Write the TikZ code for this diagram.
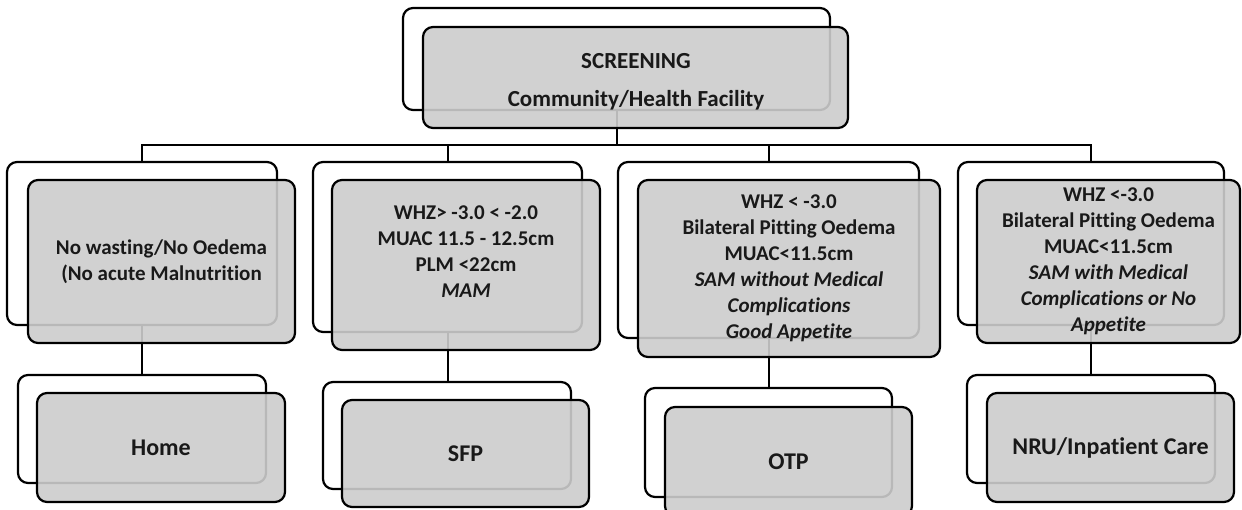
\documentclass[tikz,border=0pt]{standalone}
\usepackage{fontspec}
\setmainfont[Ligatures=NoCommon]{Carlito}
\begin{document}
\begin{tikzpicture}[x=1pt,y=-1pt,
  backbox/.style={draw=black, fill=white, line width=2.2pt, rounded corners=10pt,
    anchor=north west, inner sep=0pt, outer sep=0pt},
  frontbox/.style={draw=black, fill=black!20, fill opacity=0.9, text opacity=1,
    line width=2.2pt, rounded corners=10pt, anchor=north west, inner sep=0pt,
    outer sep=0pt, align=center, text=black!90,
    font=\fontsize{21}{26}\selectfont\bfseries},
  bigtext/.style={align=center, text=black!90, font=\fontsize{23}{26}\selectfont\bfseries},
  leaftext/.style={font=\fontsize{24}{28}\selectfont\bfseries},
  conn/.style={draw=black, line width=2pt}]
\useasboundingbox (0,0) rectangle (1242,510);
% back boxes
\node[backbox, minimum width=427pt, minimum height=102pt] (topB) at (403,8) {};
\node[backbox, minimum width=270pt, minimum height=163pt] (c1B) at (7,162) {};
\node[backbox, minimum width=269pt, minimum height=170pt] (c2B) at (313,162) {};
\node[backbox, minimum width=301pt, minimum height=176pt] (c3B) at (618,162) {};
\node[backbox, minimum width=266pt, minimum height=163pt] (c4B) at (958,162) {};
\node[backbox, minimum width=248pt, minimum height=108pt] (homeB) at (18,375) {};
\node[backbox, minimum width=248pt, minimum height=107pt] (sfpB) at (323,382) {};
\node[backbox, minimum width=247pt, minimum height=109pt] (otpB) at (645,388) {};
\node[backbox, minimum width=248pt, minimum height=108pt] (nruB) at (967,375) {};
% connectors
\coordinate (bar) at (0,145);
\draw[conn] (topB.south) -- (topB.south |- bar) -| (c1B.north);
\draw[conn] (topB.south |- bar) -| (c2B.north);
\draw[conn] (topB.south |- bar) -| (c3B.north);
\draw[conn] (topB.south |- bar) -| (c4B.north);
\draw[conn] (c1B.south) -- (c1B.south |- homeB.north);
\draw[conn] (c2B.south) -- (c2B.south |- sfpB.north);
\draw[conn] (c3B.south) -- (c3B.south |- otpB.north);
\draw[conn] (c4B.south) -- (c4B.south |- nruB.north);
% front boxes
\node[frontbox, minimum width=425pt, minimum height=101pt] (top) at (423,27) {};
\node[bigtext] (topT) at (636,82) {SCREENING\\[12pt]Community/Health Facility};
\node[frontbox, minimum width=267pt, minimum height=163pt] (c1) at (28,180)
  {No wasting/No Oedema\\(No acute Malnutrition};
\node[frontbox, minimum width=268pt, minimum height=170pt] (c2) at (332,180)
  {WHZ> -3.0 < -2.0\\MUAC 11.5 - 12.5cm\\PLM <22cm\\\textit{MAM}\\~};
\node[frontbox, minimum width=302pt, minimum height=177pt] (c3) at (638,180)
  {WHZ < -3.0\\Bilateral Pitting Oedema\\MUAC<11.5cm\\\textit{SAM without Medical}\\\textit{Complications}\\\textit{Good Appetite}};
\node[frontbox, minimum width=263pt, minimum height=163pt] (c4) at (977,180)
  {WHZ <-3.0\\Bilateral Pitting Oedema\\MUAC<11.5cm\\\textit{SAM with Medical}\\\textit{Complications or No}\\\textit{Appetite}};
\node[frontbox, leaftext, minimum width=248pt, minimum height=109pt] (home) at (37,393) {Home};
\node[frontbox, leaftext, minimum width=247pt, minimum height=107pt] (sfp) at (342,400) {SFP};
\node[frontbox, leaftext, minimum width=247pt, minimum height=109pt] (otp) at (665,407) {OTP};
\node[frontbox, leaftext, minimum width=247pt, minimum height=109pt] (nru) at (987,393) {NRU/Inpatient Care};
\end{tikzpicture}
\end{document}
